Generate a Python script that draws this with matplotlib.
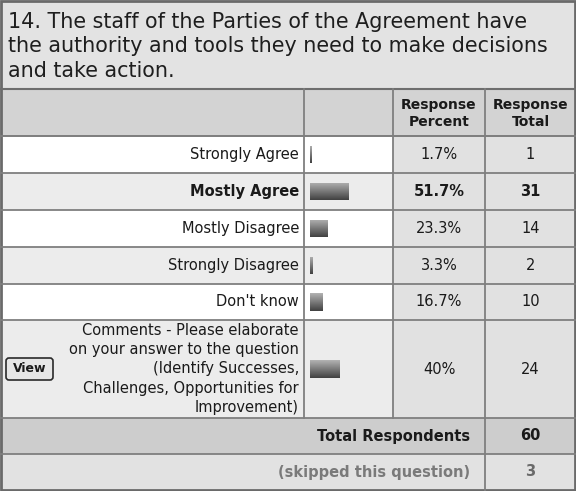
import numpy as np
import matplotlib.pyplot as plt
from matplotlib.patches import Rectangle, FancyBboxPatch

# survey question 14 results
question = ("14. The staff of the Parties of the Agreement have\n"
            "the authority and tools they need to make decisions\n"
            "and take action.")
choices = ["Strongly Agree", "Mostly Agree", "Mostly Disagree",
           "Strongly Disagree", "Don't know",
           "Comments - Please elaborate\non your answer to the question\n(Identify Successes,\nChallenges, Opportunities for\nImprovement)"]
percents = [1.7, 51.7, 23.3, 3.3, 16.7, 40]
totals = [1, 31, 14, 2, 10, 24]
total_respondents = 60
skipped = 3

W, H = 576, 491
fig = plt.figure(figsize=(W / 100, H / 100), dpi=100)
ax = fig.add_axes([0, 0, 1, 1])
ax.set_xlim(0, W)
ax.set_ylim(H, 0)
ax.axis("off")

# column edges and row heights (pixels)
c1, c2, c3 = 304, 393, 485
title_h, head_h = 89, 47
row_h = [37, 37, 37, 37, 36, 98]
foot_h = [36, 36]

line_col = "#7f7f7f"
txt = "#1a1a1a"
fs = 10.5

def cell(x0, y0, w, h, fc):
    ax.add_patch(Rectangle((x0, y0), w, h, facecolor=fc, edgecolor="none"))

# title box
cell(0, 0, W, title_h, "#e3e3e3")
ax.text(8, 12, question, fontsize=14.9, color="#1e1e1e", va="top", ha="left",
        linespacing=1.27)

# header row
y = title_h
cell(0, y, W, head_h, "#d3d3d3")
ax.text((c2 + c3) / 2, y + head_h / 2 + 1, "Response\nPercent", ha="center", va="center",
        fontsize=10, fontweight="bold", color=txt, linespacing=1.2)
ax.text((c3 + W) / 2, y + head_h / 2 + 1, "Response\nTotal", ha="center", va="center",
        fontsize=10, fontweight="bold", color=txt, linespacing=1.2)
y += head_h
rows_top = y

best = int(np.argmax(percents))
row_centers = []
for i, (ch, p, t) in enumerate(zip(choices, percents, totals)):
    h = row_h[i]
    cell(0, y, c2, h, "#ffffff" if i % 2 == 0 else "#ececec")
    cell(c2, y, W - c2, h, "#e1e1e1")
    yc = y + h / 2
    row_centers.append(yc)
    w = "bold" if i == best else "normal"
    ax.text(c1 - 5, yc, ch, ha="right", va="center", fontsize=fs, fontweight=w,
            color=txt, linespacing=1.34)
    ax.text((c2 + c3) / 2, yc, f"{p:g}%", ha="center", va="center", fontsize=fs,
            fontweight=w, color=txt)
    ax.text((c3 + W) / 2, yc, str(t), ha="center", va="center", fontsize=fs,
            fontweight=w, color=txt)
    ax.plot([0, W], [y, y], color=line_col, lw=1.3)
    y += h
rows_bottom = y

# comments "View" button
btn_y = row_centers[-1]
ax.add_patch(FancyBboxPatch((6, btn_y - 11), 47, 22,
                            boxstyle="round,pad=0,rounding_size=3",
                            facecolor="#e6e6e6", edgecolor="#2a2a2a", lw=1.2))
ax.text(29.5, btn_y, "View", ha="center", va="center", fontsize=9,
        fontweight="bold", color=txt)

# footer rows
ax.plot([0, W], [y, y], color=line_col, lw=1.3)
cell(0, y, W, foot_h[0], "#cdcdcd")
ax.text(c3 - 15, y + foot_h[0] / 2, "Total Respondents", ha="right", va="center",
        fontsize=fs, fontweight="bold", color=txt)
ax.text((c3 + W) / 2, y + foot_h[0] / 2, str(total_respondents), ha="center",
        va="center", fontsize=fs, fontweight="bold", color=txt)
y += foot_h[0]
ax.plot([0, W], [y, y], color=line_col, lw=1.3)
cell(0, y, W, foot_h[1], "#e2e2e2")
ax.text(c3 - 15, y + foot_h[1] / 2, "(skipped this question)", ha="right",
        va="center", fontsize=fs, fontweight="bold", color="#7a7a7a")
ax.text((c3 + W) / 2, y + foot_h[1] / 2, str(skipped), ha="center",
        va="center", fontsize=fs, fontweight="bold", color="#6a6a6a")

# grid lines
ax.plot([0, W], [title_h, title_h], color="#6e6e6e", lw=1.5)
ax.plot([0, W], [rows_top, rows_top], color=line_col, lw=1.3)
for xv in (c1, c2):
    ax.plot([xv, xv], [title_h, rows_bottom], color=line_col, lw=1.3)
ax.plot([c3, c3], [title_h, H], color=line_col, lw=1.3)
ax.add_patch(Rectangle((0.8, 0.8), W - 1.6, H - 1.6, facecolor="none",
                       edgecolor="#6a6a6a", lw=2))

# bar column: 0-100 % scale, bars shaded light-to-dark from top
bx0, bw = 310, 75
bax = fig.add_axes([bx0 / W, 1 - rows_bottom / H, bw / W, (rows_bottom - rows_top) / H])
bax.axis("off")
bax.patch.set_alpha(0)
grad = np.linspace(0, 1, 32).reshape(-1, 1)
for yc, p in zip(row_centers, percents):
    bar = bax.barh(yc, p, height=18, facecolor="none", edgecolor="none")[0]
    im = bax.imshow(grad, cmap="gray_r", vmin=-0.7, vmax=1.6, aspect="auto",
                    extent=(0, p, yc + 9, yc - 9), origin="upper")
    im.set_clip_path(bar)
bax.set_xlim(0, 100)
bax.set_ylim(rows_bottom, rows_top)

fig.savefig("out.png", dpi=100)
